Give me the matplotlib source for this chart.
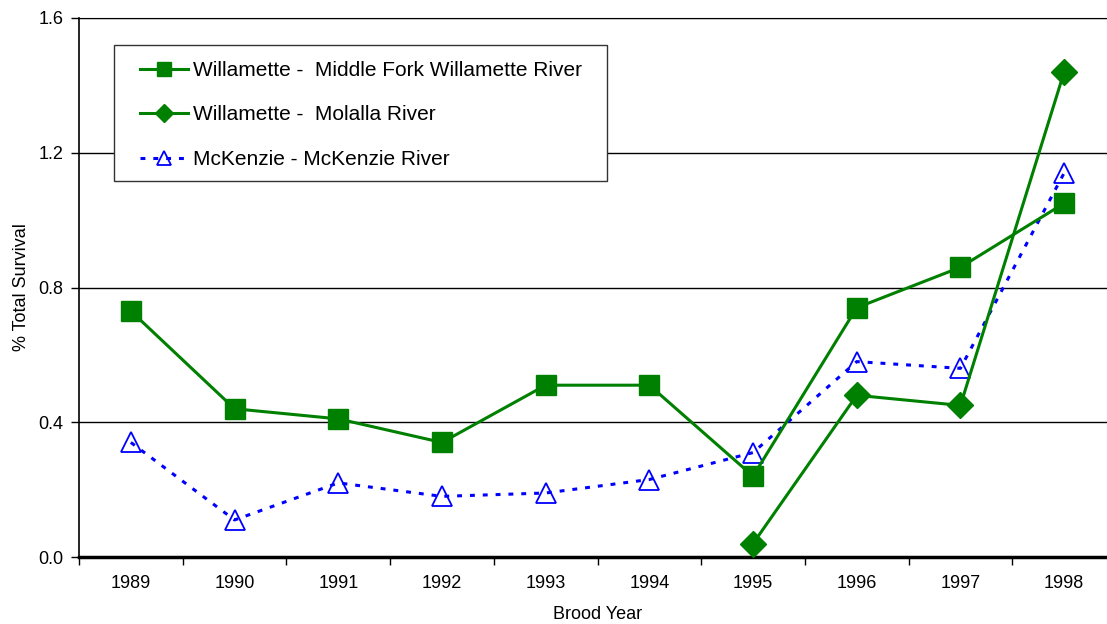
import matplotlib
matplotlib.use("Agg")
import matplotlib.pyplot as plt
import matplotlib.patches as patches
import numpy as np

plt.rcParams['font.family'] = ['Liberation Sans', 'DejaVu Sans']

years = ['1989', '1990', '1991', '1992', '1993', '1994', '1995', '1996', '1997', '1998']
middle_fork = [0.73, 0.44, 0.41, 0.34, 0.51, 0.51, 0.24, 0.74, 0.86, 1.05]
molalla_years = ['1995', '1996', '1997', '1998']
molalla = [0.04, 0.48, 0.45, 1.44]
mckenzie = [0.34, 0.11, 0.22, 0.18, 0.19, 0.23, 0.31, 0.58, 0.56, 1.14]
yticks = [0.0, 0.4, 0.8, 1.2, 1.6]

green = '#008000'
blue = '#0000ff'

W, H = 1107, 624
# plot area in pixels (left, top, width, height)
px_l, px_t, px_w, px_h = 79, 18, 1037, 539

fig = plt.figure(figsize=(W / 100, H / 100), dpi=100)
ax = fig.add_axes([px_l / W, (H - px_t - px_h) / H, px_w / W, px_h / H])

x = np.arange(len(years))
xm = np.array([years.index(y) for y in molalla_years])

ax.plot(x, middle_fork, color=green, lw=2.2, marker='s', ms=14,
        mfc=green, mec=green, label='Willamette -  Middle Fork Willamette River', zorder=4)
ax.plot(xm, molalla, color=green, lw=2.2, marker='D', ms=13,
        mfc=green, mec=green, label='Willamette -  Molalla River', zorder=4)
ax.plot(x, mckenzie, color=blue, lw=2.2, ls=(0, (1.6, 2.6)), marker='^', ms=14,
        mfc='none', mec=blue, mew=1.3, label='McKenzie - McKenzie River', zorder=3)

ax.set_xlim(-0.5, len(years) - 0.5)
ax.set_ylim(0, 1.6)
ax.set_xticks(x)
ax.set_xticklabels(years, fontsize=13)
ax.set_xticks(np.arange(-0.5, len(years), 1.0), minor=True)
ax.tick_params(axis='x', which='major', length=0, pad=13)
ax.tick_params(axis='x', which='minor', length=6, width=1, direction='out')
ax.set_yticks(yticks)
ax.set_yticklabels(['%.1f' % v for v in yticks], fontsize=13)
ax.tick_params(axis='y', length=6, width=1, direction='out', pad=5)

ax.yaxis.grid(True, color='black', lw=1)
ax.set_axisbelow(True)
ax.spines['right'].set_visible(False)
ax.spines['top'].set_color('black')
ax.spines['left'].set_linewidth(1.2)
ax.spines['bottom'].set_linewidth(2.5)

ax.set_xlabel('Brood Year', fontsize=13, labelpad=10)
ax.set_ylabel('% Total Survival', fontsize=13, labelpad=6)

# legend frame drawn separately so its size matches the original box
box = patches.Rectangle(((114 - px_l) / px_w, (px_t + px_h - 181) / px_h),
                        493 / px_w, 136 / px_h, transform=ax.transAxes,
                        facecolor='white', edgecolor='#333333', lw=1.0, zorder=5)
ax.add_patch(box)

leg = ax.legend(loc='upper left', bbox_to_anchor=((140 - px_l) / px_w, (px_t + px_h - 61) / px_h),
                borderaxespad=0, borderpad=0, fontsize=15, frameon=False,
                markerscale=0.72, handlelength=2.3, handletextpad=0.25,
                labelspacing=1.22)
leg.set_zorder(6)

fig.savefig('out.png', dpi=100)
